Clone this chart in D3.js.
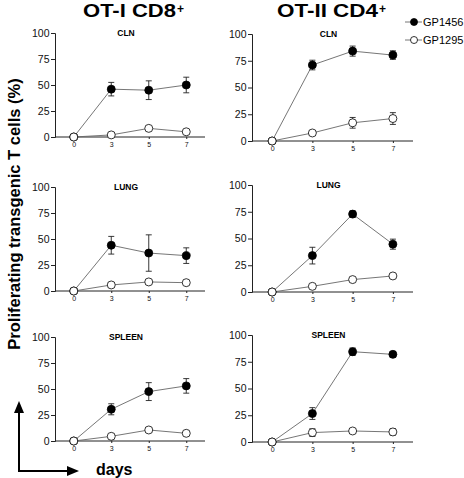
<!DOCTYPE html>
<html><head><meta charset="utf-8">
<script src="https://cdn.jsdelivr.net/npm/d3@7"></script>
<style>
html,body{margin:0;padding:0;background:#fff;}
text{font-family:"Liberation Sans",Arial,Helvetica,sans-serif;}
</style>
</head><body>
<svg id="chart" width="464" height="478"></svg>
<script>
// ---- data ----
const tissues = ["CLN", "LUNG", "SPLEEN"];
const columnTitles = ["OT-I CD8", "OT-II CD4"];
const days = ["0", "3", "5", "7"];
const yTicks = [0, 25, 50, 75, 100];
const seriesNames = ["GP1456", "GP1295"];

const cd8_GP1456     = [[0, 46, 45, 50], [0, 44, 36.5, 34], [0, 30.5, 47.5, 53]];
const cd8_GP1456_err = [[0, 6.5, 9, 7.5], [0, 8.5, 17.5, 7.5], [0, 5.3, 8.6, 7]];
const cd8_GP1295     = [[0, 2, 8.3, 5], [0, 5.8, 8.7, 8], [0, 4.5, 10.6, 7.4]];
const cd8_GP1295_err = [[0, 1, 1, 1], [0, 1, 1, 1], [0, 1, 1.5, 1]];

const cd4_GP1456     = [[0, 71, 84, 80.3], [0, 34, 72.8, 44.7], [0, 26.6, 84.4, 81.9]];
const cd4_GP1456_err = [[0, 4.5, 4.7, 4], [0, 7.8, 3, 4.7], [0, 5.5, 3.5, 2.7]];
const cd4_GP1295     = [[0, 7.5, 17, 21], [0, 5.3, 11.6, 15], [0, 8.8, 10.3, 9.4]];
const cd4_GP1295_err = [[0, 1, 5, 5.5], [0, 1, 1, 1], [0, 3.6, 1, 3]];

// ---- layout ----
const svg = d3.select("#chart");
const colX = [[55, 205], [252, 413]];
const rowY = [
  [[137, 33], [291, 187], [441, 337]],
  [[141, 34], [292, 185], [442, 335]]
];
const colData = [
  {a: cd8_GP1456, ae: cd8_GP1456_err, b: cd8_GP1295, be: cd8_GP1295_err},
  {a: cd4_GP1456, ae: cd4_GP1456_err, b: cd4_GP1295, be: cd4_GP1295_err}
];

function drawPanel(ci, ri) {
  const x = d3.scalePoint().domain(days).range(colX[ci]).padding(0.5);
  const y = d3.scaleLinear().domain([0, 100]).range(rowY[ci][ri]);
  const g = svg.append("g");

  // y axis
  const ya = g.append("g").attr("transform", `translate(${colX[ci][0]},0)`)
    .call(d3.axisLeft(y).tickValues(yTicks).tickSize(4).tickPadding(1.5));
  ya.select(".domain").attr("stroke", "#222").attr("stroke-width", 1);
  ya.selectAll(".tick line").attr("stroke", "#222");
  ya.selectAll("text").attr("font-size", 10.5).attr("fill", "#111");

  // x axis
  const xa = g.append("g").attr("transform", `translate(0,${rowY[ci][ri][0]})`)
    .call(d3.axisBottom(x).tickSize(2).tickSizeOuter(0).tickPadding(3));
  xa.select(".domain").attr("stroke", "#222").attr("stroke-width", 1)
    .attr("d", `M${colX[ci][0]},0H${colX[ci][1]}`);
  xa.selectAll(".tick line").attr("stroke", "#222");
  xa.selectAll("text").attr("font-size", 7).attr("fill", "#111");

  // subtitle
  g.append("text")
    .attr("x", (colX[ci][0] + colX[ci][1]) / 2 - 4)
    .attr("y", rowY[ci][ri][1] + 3)
    .attr("text-anchor", "middle")
    .attr("font-size", 8.5).attr("font-weight", "bold")
    .text(tissues[ri]);

  const cd = colData[ci];
  const series = [
    {vals: cd.a[ri], errs: cd.ae[ri], fill: "#000"},
    {vals: cd.b[ri], errs: cd.be[ri], fill: "#fff"}
  ];
  const line = d3.line().x((d, i) => x(days[i])).y(d => y(d));
  series.forEach(s => {
    g.append("path").attr("d", line(s.vals))
      .attr("fill", "none").attr("stroke", "#666").attr("stroke-width", 0.9);
  });
  series.forEach(s => {
    const eg = g.append("g").attr("stroke", "#222").attr("stroke-width", 0.9);
    s.vals.forEach((v, i) => {
      if (!s.errs[i]) return;
      const cx = x(days[i]), y1 = y(v + s.errs[i]), y2 = y(Math.max(0, v - s.errs[i]));
      eg.append("line").attr("x1", cx).attr("x2", cx).attr("y1", y1).attr("y2", y2);
      eg.append("line").attr("x1", cx - 3).attr("x2", cx + 3).attr("y1", y1).attr("y2", y1);
      eg.append("line").attr("x1", cx - 3).attr("x2", cx + 3).attr("y1", y2).attr("y2", y2);
    });
  });
  series.forEach(s => {
    g.append("g").selectAll("circle").data(s.vals).join("circle")
      .attr("cx", (d, i) => x(days[i])).attr("cy", d => y(d)).attr("r", 4)
      .attr("fill", s.fill).attr("stroke", "#000").attr("stroke-width", 0.8);
  });
}

for (let ci = 0; ci < 2; ci++) for (let ri = 0; ri < 3; ri++) drawPanel(ci, ri);

// column titles
const titleStart = [83, 277];
const titleWidth = [93, 101];
columnTitles.forEach((t, i) => {
  svg.append("text").attr("x", titleStart[i]).attr("y", 17)
    .attr("font-size", 18).attr("font-weight", "bold")
    .attr("textLength", titleWidth[i]).attr("lengthAdjust", "spacingAndGlyphs")
    .text(t);
  svg.append("text").attr("x", titleStart[i] + titleWidth[i] + 1).attr("y", 13)
    .attr("font-size", 12).attr("font-weight", "bold").text("+");
});

// legend
seriesNames.forEach((n, i) => {
  const ly = 22 + i * 18;
  svg.append("line").attr("x1", 405).attr("x2", 422).attr("y1", ly).attr("y2", ly)
    .attr("stroke", "#666").attr("stroke-width", 0.9);
  svg.append("circle").attr("cx", 414).attr("cy", ly).attr("r", 3.5)
    .attr("fill", i === 0 ? "#000" : "#fff").attr("stroke", "#000").attr("stroke-width", 0.8);
  svg.append("text").attr("x", 423).attr("y", ly + 4).attr("font-size", 11).text(n);
});

// y label
svg.append("text").attr("transform", "translate(20,214) rotate(-90)")
  .attr("text-anchor", "middle").attr("font-size", 16.5).attr("font-weight", "bold")
  .text("Proliferating transgenic T cells (%)");

// arrows
const ag = svg.append("g").attr("stroke", "#000").attr("stroke-width", 2);
ag.append("line").attr("x1", 19).attr("y1", 471).attr("x2", 19).attr("y2", 410);
ag.append("line").attr("x1", 18).attr("y1", 471).attr("x2", 70).attr("y2", 471);
svg.append("path").attr("d", "M19,401L14,413L24,413Z").attr("fill", "#000");
svg.append("path").attr("d", "M79,471L67,466L67,476Z").attr("fill", "#000");
svg.append("text").attr("x", 96).attr("y", 475).attr("font-size", 16).attr("font-weight", "bold").text("days");
</script>
</body></html>
